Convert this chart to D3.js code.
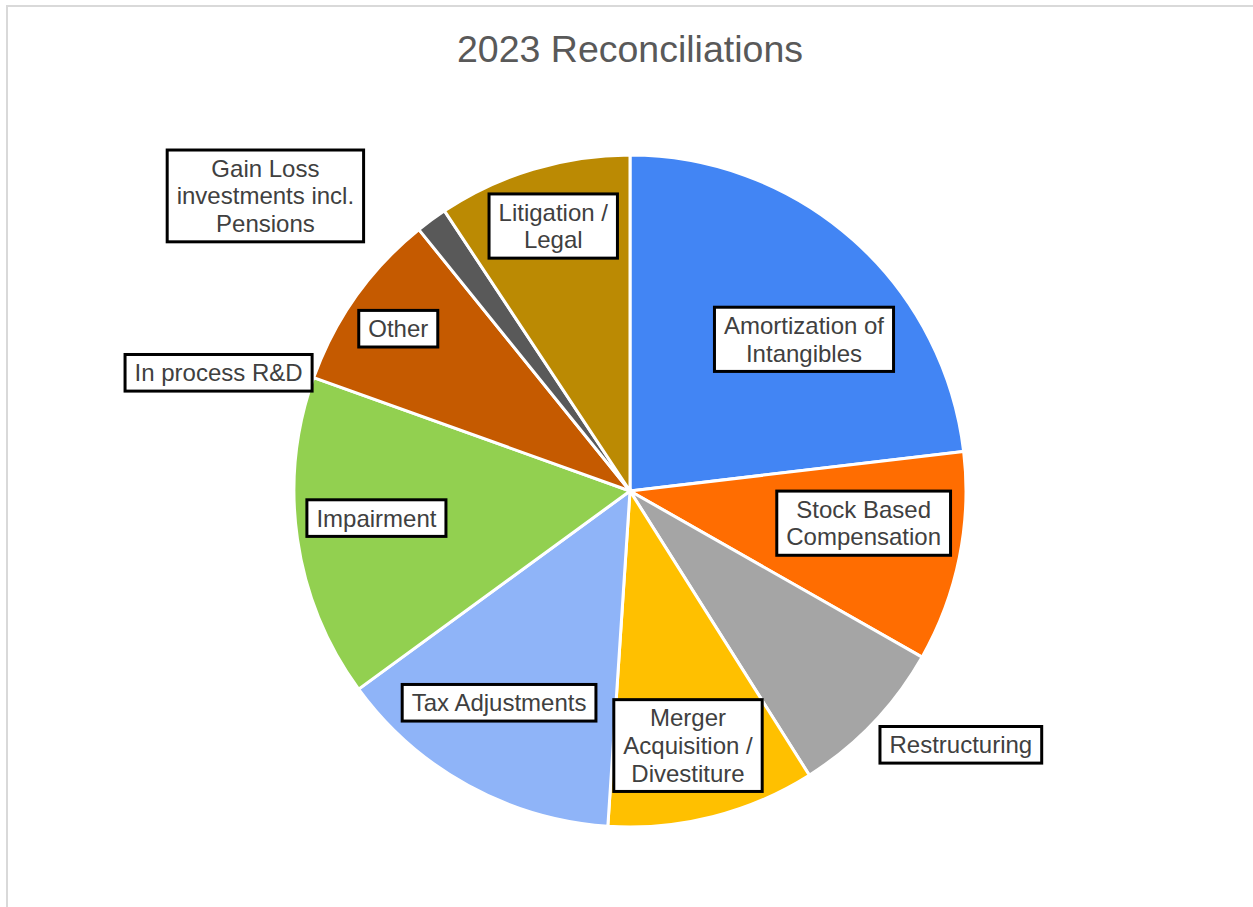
<!DOCTYPE html>
<html lang="en">
<head>
  <meta charset="utf-8">
  <title>2023 Reconciliations</title>
  <style>
    body { margin: 0; background: #fff; }
    svg { display: block; font-family: 'Liberation Sans', Arial, sans-serif; }
    .slice { stroke: #fff; stroke-width: 3; }
    .label-box { fill: #fff; stroke: #000; stroke-width: 3; }
    .label-text { fill: #404040; font-size: 24px; }
  </style>
</head>
<body>
  <div id="chart"></div>

  <script src="https://d3js.org/d3.v7.min.js"></script>
  <script>
    // Data (share of total, %)
    var categories = [
      "Amortization of Intangibles",
      "Stock Based Compensation",
      "Restructuring",
      "Merger Acquisition / Divestiture",
      "Tax Adjustments",
      "Impairment",
      "In process R&D",
      "Other",
      "Gain Loss investments incl. Pensions",
      "Litigation / Legal"
    ];
    var values = [23.1, 10.1, 7.8, 10.0, 13.9, 15.5, 0, 8.7, 1.5, 9.3];
    var colors = ["#4285f4", "#ff6d01", "#a5a5a5", "#ffc000", "#8fb4f8",
                  "#92d050", "#2e75b6", "#c55a00", "#595959", "#bb8a03"];

    // how each label wraps inside its box
    var labelLines = [
      ["Amortization of", "Intangibles"],
      ["Stock Based", "Compensation"],
      ["Restructuring"],
      ["Merger", "Acquisition /", "Divestiture"],
      ["Tax Adjustments"],
      ["Impairment"],
      ["In process R&D"],
      ["Other"],
      ["Gain Loss", "investments incl.", "Pensions"],
      ["Litigation /", "Legal"]
    ];

    // label placement: angle nudge (deg) from slice middle, distance as fraction of radius
    var labelNudge = [7.3, -3.6, -6.2, 1.4, 2.9, 2.1, -3.7, -0.4, -14.8, 0.6];
    var labelDist = [0.687, 0.702, 1.241, 0.777, 0.741, 0.759, 1.274, 0.842, 1.396, 0.821];

    var width = 1253, height = 907;
    var cx = 630, cy = 491, radius = 336;
    var lineHeight = 27.6;

    var svg = d3.select("#chart")
      .append("svg")
      .attr("width", width)
      .attr("height", height);

    // chart area border
    svg.append("rect")
      .attr("x", 7)
      .attr("y", 6)
      .attr("width", 1400)
      .attr("height", 1000)
      .attr("fill", "none")
      .attr("stroke", "#d9d9d9")
      .attr("stroke-width", 2);

    // title
    svg.append("text")
      .attr("x", cx)
      .attr("y", 62)
      .attr("text-anchor", "middle")
      .attr("fill", "#595959")
      .style("font-size", "37.5px")
      .text("2023 Reconciliations");

    var data = categories.map(function(c, i) {
      return { name: c, value: values[i], color: colors[i], lines: labelLines[i] };
    });

    var pie = d3.pie()
      .sort(null)
      .value(function(d) { return d.value; });

    var arc = d3.arc()
      .innerRadius(0)
      .outerRadius(radius);

    var arcs = pie(data);

    var g = svg.append("g")
      .attr("transform", "translate(" + cx + "," + cy + ")");

    g.selectAll(".slice")
      .data(arcs.filter(function(d) { return d.value > 0; }))
      .enter()
      .append("path")
      .attr("class", "slice")
      .attr("d", arc)
      .attr("fill", function(d) { return d.data.color; });

    // labels
    var labels = g.selectAll(".label")
      .data(arcs)
      .enter()
      .append("g")
      .attr("class", "label")
      .attr("transform", function(d, i) {
        var a = (d.startAngle + d.endAngle) / 2 + labelNudge[i] * Math.PI / 180;
        var r = labelDist[i] * radius;
        return "translate(" + (Math.sin(a) * r) + "," + (-Math.cos(a) * r) + ")";
      });

    labels.each(function(d) {
      var sel = d3.select(this);
      var n = d.data.lines.length;
      var box = sel.append("rect").attr("class", "label-box");
      var text = sel.append("text")
        .attr("class", "label-text")
        .attr("text-anchor", "middle");
      d.data.lines.forEach(function(line, k) {
        text.append("tspan")
          .attr("x", 0)
          .attr("y", (k - (n - 1) / 2) * lineHeight + 8.5)
          .text(line);
      });
      var w = 0;
      text.selectAll("tspan").each(function() {
        w = Math.max(w, this.getComputedTextLength());
      });
      var bw = w + 19, bh = n * lineHeight + 9;
      box.attr("x", -bw / 2)
        .attr("y", -bh / 2)
        .attr("width", bw)
        .attr("height", bh);
    });
  </script>
</body>
</html>
